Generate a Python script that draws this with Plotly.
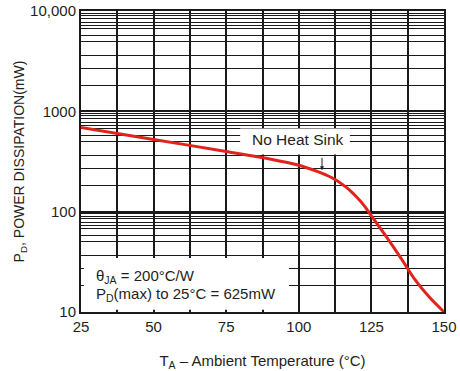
import math
import plotly.graph_objects as go

# ---- data ----
T_C = [25, 50, 75, 90, 100, 105, 110, 112.5, 115, 117.5, 120, 122.5, 125, 130, 135, 140, 145, 150]
P_MW = [690, 525, 398, 335, 290, 260, 228, 209, 187, 164, 139, 115, 91, 57, 35, 21, 14, 10]

X_TICKS = [25, 50, 75, 100, 125, 150]
X_GRID = [25, 37.5, 50, 62.5, 75, 87.5, 100, 112.5, 125, 137.5, 150]
Y_TICKS = [10, 100, 1000, 10000]
Y_TICKTEXT = ["10", "100", "1000", "10,000"]
DECADES = [100, 1000, 10000]
GRID_FACTORS = [0.955, 0.90, 0.85, 0.776, 0.724, 0.676, 0.575, 0.50, 0.363, 0.269, 0.182]
Y_GRID = [d * f for d in DECADES for f in GRID_FACTORS]

TXT = "#231f20"
GRID = "#1a1a1a"
FONT = "Liberation Sans, Arial, sans-serif"

def ly(v):
    return math.log10(v)

fig = go.Figure()
fig.add_trace(go.Scatter(
    x=T_C, y=P_MW, mode="lines",
    line=dict(color="#e0241c", width=3, shape="spline", smoothing=0.8),
    hoverinfo="skip", showlegend=False,
))

# white label boxes (between grid and trace)
fig.add_shape(type="rect", xref="x", yref="y", x0=79.8, x1=117.6, y0=372, y1=676,
              fillcolor="white", line=dict(width=0), layer="between")
fig.add_shape(type="rect", xref="x", yref="y", x0=26.0, x1=96.6, y0=10.5, y1=34.5,
              fillcolor="white", line=dict(width=0), layer="between")

fig.add_annotation(x=99.7, y=ly(526), text="No Heat Sink", showarrow=False,
                   font=dict(size=15.5, color=TXT, family=FONT))
fig.add_annotation(x=108, y=ly(258), text="", showarrow=True, ax=0, ay=-14,
                   arrowhead=2, arrowsize=0.8, arrowwidth=1, arrowcolor=TXT)
fig.add_annotation(x=29.5, y=ly(22.5), text="θ<sub>JA</sub> = 200°C/W", showarrow=False,
                   xanchor="left", font=dict(size=15, color=TXT, family=FONT))
fig.add_annotation(x=29.5, y=ly(14.8), text="P<sub>D</sub>(max) to 25°C = 625mW", showarrow=False,
                   xanchor="left", font=dict(size=15, color=TXT, family=FONT))

fig.update_xaxes(
    range=[25, 150], tickvals=X_TICKS, ticktext=[str(v) for v in X_TICKS],
    showgrid=True, gridcolor=GRID, gridwidth=1.5,
    minor=dict(tickvals=X_GRID, showgrid=True, gridcolor=GRID, gridwidth=1.5, ticks=""),
    showline=True, linecolor=GRID, linewidth=2, mirror=True,
    ticks="", zeroline=False,
    tickfont=dict(size=15, color=TXT, family=FONT),
    title=dict(text="T<sub>A</sub> – Ambient Temperature (°C)",
               font=dict(size=15, color=TXT, family=FONT), standoff=23),
)
fig.update_yaxes(
    type="log", range=[1, 4], tickvals=Y_TICKS, ticktext=Y_TICKTEXT,
    showgrid=True, gridcolor=GRID, gridwidth=1.5,
    minor=dict(tickvals=Y_GRID, showgrid=True, gridcolor=GRID, gridwidth=1.2, ticks=""),
    showline=True, linecolor=GRID, linewidth=2, mirror=True,
    ticks="", zeroline=False,
    tickfont=dict(size=15, color=TXT, family=FONT),
    title=dict(text="P<sub>D</sub>, POWER DISSIPATION(mW)",
               font=dict(size=14, color=TXT, family=FONT), standoff=2),
)
fig.update_layout(
    width=460, height=371,
    margin=dict(l=81, r=16, t=11, b=59, autoexpand=False),
    paper_bgcolor="white", plot_bgcolor="white",
    font=dict(family=FONT, color=TXT),
)
fig.write_html("out.html")
